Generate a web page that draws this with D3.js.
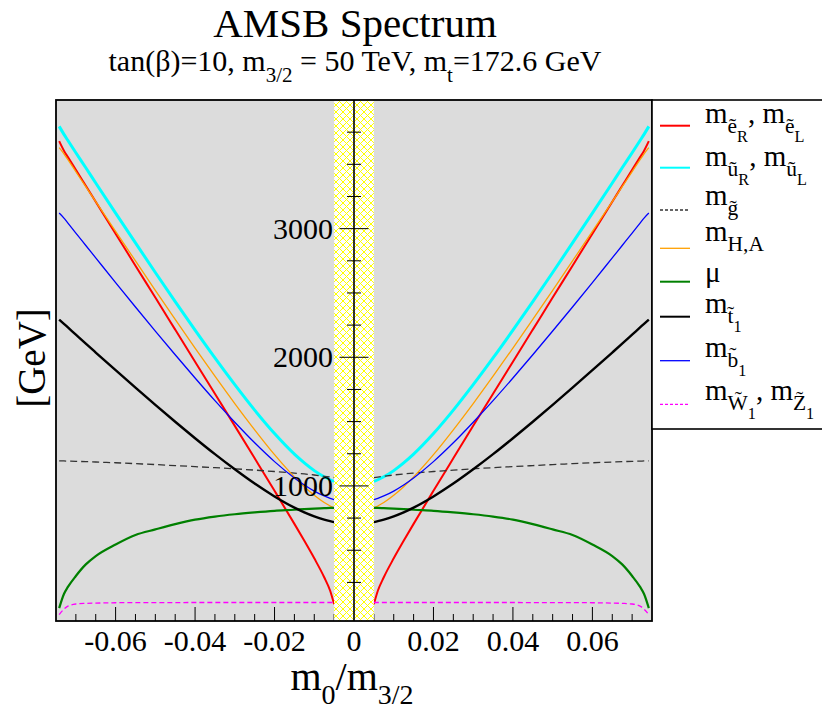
<!DOCTYPE html>
<html><head><meta charset="utf-8">
<script src="https://cdn.jsdelivr.net/npm/d3@7"></script>
<style>
body{margin:0;background:#fff}
svg text{fill:#000;white-space:pre}
</style>
</head><body>
<svg id="c" width="822" height="713"></svg>
<script>
// |m0/m3/2| sample points (curves are drawn on both sides of the excluded band)
const xAbs     = [0.005,0.006,0.0075,0.01,0.0125,0.015,0.02,0.025,0.03,0.035,0.04,0.045,0.05,0.055,0.06,0.065,0.0675,0.07,0.072,0.073,0.0742];
const slepton  = [80,185,290,437,573,705,962,1215,1467,1717,1966,2215,2464,2712,2961,3209,3333,3457,3556,3606,3680];
const squark   = [1035,1048,1071,1119,1179,1247,1407,1589,1787,1995,2211,2433,2659,2889,3121,3355,3473,3590,3685,3733,3795];
const gluino   = [1065,1069,1075,1085,1093,1100,1112,1123,1133,1142,1150,1158,1166,1173,1180,1186,1189,1191,1193,1194,1195];
const higgsHA  = [829,844,871,927,994,1070,1243,1436,1640,1853,2072,2295,2521,2749,2979,3210,3326,3443,3536,3582,3630];
const mu       = [829,829,827,824,820,815,806,794,780,762,738,703,662,619,545,455,390,300,215,160,50];
const stop1    = [719,726,738,763,794,831,918,1018,1129,1247,1371,1499,1630,1764,1900,2037,2106,2176,2232,2260,2293];
const sbottom1 = [894,904,922,960,1007,1062,1189,1335,1495,1663,1839,2020,2204,2391,2581,2773,2869,2965,3043,3082,3121];
const gaugino  = [94,94,94,94,94,94,94,94,94,94,94,93,93,93,92,89,87,82,66,42,0];
const bandHalf = 0.005;
const xTickLabels = ["-0.06","-0.04","-0.02","0","0.02","0.04","0.06"];
const xTickValues = [-0.06,-0.04,-0.02,0,0.02,0.04,0.06];
const yTickLabels = [1000,2000,3000];

const FONT = "Liberation Serif";
const svg = d3.select("#c");
svg.append("rect").attr("width",822).attr("height",713).attr("fill","#fff");

const L=56,R=652,T=100,B=621;
const x = d3.scaleLinear().domain([-0.075,0.075]).range([L,R]);
const y = d3.scaleLinear().domain([-50,4000]).range([B,T]);

// pattern
const defs = svg.append("defs");
const pat = defs.append("pattern").attr("id","hatch").attr("patternUnits","userSpaceOnUse")
  .attr("width",7).attr("height",7);
pat.append("rect").attr("width",7).attr("height",7).attr("fill","#fff");
pat.append("path").attr("d","M-1,-1L8,8M-1,8L8,-1M-4.5,3.5L3.5,11.5M3.5,-4.5L11.5,3.5M3.5,11.5L11.5,3.5M-4.5,3.5L3.5,-4.5")
  .attr("stroke","#ffff00").attr("stroke-width",1).attr("fill","none");
defs.append("clipPath").attr("id","clip").append("rect").attr("x",L).attr("y",T).attr("width",R-L).attr("height",B-T);

// frame fill
svg.append("rect").attr("x",L).attr("y",T).attr("width",R-L).attr("height",B-T).attr("fill","#dcdcdc");

const series = [
  {v:slepton,  color:"#ff0000", w:2,   dash:null},
  {v:squark,   color:"#00ffff", w:3,   dash:null},
  {v:gluino,   color:"#333333", w:1.3, dash:"7,4"},
  {v:higgsHA,  color:"#ffa000", w:1.3, dash:null},
  {v:mu,       color:"#008000", w:2.2, dash:null},
  {v:stop1,    color:"#000000", w:2.4, dash:null},
  {v:sbottom1, color:"#0000ff", w:1.3, dash:null},
  {v:gaugino,  color:"#ff00ff", w:1.3, dash:"5,3"}
];
const line = d3.line().x(d=>x(d[0])).y(d=>y(d[1])).curve(d3.curveMonotoneX);
const gc = svg.append("g").attr("clip-path","url(#clip)");
series.forEach(s=>{
  const right = xAbs.map((a,i)=>[a,s.v[i]]);
  const left = xAbs.map((a,i)=>[-a,s.v[i]]).reverse();
  [left,right].forEach(pts=>{
    gc.append("path").attr("d",line(pts)).attr("fill","none")
      .attr("stroke",s.color).attr("stroke-width",s.w)
      .attr("stroke-dasharray",s.dash);
  });
});

// x ticks (bottom)
const xt = svg.append("g");
d3.range(-0.075,0.0751,0.005).forEach(v=>{
  const major = Math.abs(Math.round(v*1000)) % 20 === 0;
  const xx = x(v);
  if (xx<=L+0.5 || xx>=R-0.5) return;
  xt.append("line").attr("x1",xx).attr("x2",xx).attr("y1",B).attr("y2",B-(major?14:7))
    .attr("stroke","#000").attr("stroke-width",1);
});
xTickValues.forEach((v,i)=>{
  svg.append("text").attr("x",x(v)).attr("y",651).attr("text-anchor","middle")
    .attr("font-family",FONT).attr("font-size",30).text(xTickLabels[i]);
});

// excluded band
svg.append("rect").attr("x",x(-bandHalf)).attr("y",T).attr("width",x(bandHalf)-x(-bandHalf)).attr("height",B-T)
  .attr("fill","url(#hatch)");

// y axis at x=0
const x0 = x(0);
svg.append("line").attr("x1",x0).attr("x2",x0).attr("y1",T).attr("y2",B).attr("stroke","#000").attr("stroke-width",1.6);
d3.range(250,4000,250).forEach(v=>{
  const major = v%1000===0;
  const h = major?14.5:7;
  svg.append("line").attr("x1",x0-h).attr("x2",x0+h).attr("y1",y(v)).attr("y2",y(v))
    .attr("stroke","#000").attr("stroke-width",1);
});
yTickLabels.forEach(v=>{
  svg.append("text").attr("x",333).attr("y",y(v)+10).attr("text-anchor","end")
    .attr("font-family",FONT).attr("font-size",30).text(v);
});

// frame border
svg.append("rect").attr("x",L).attr("y",T).attr("width",R-L).attr("height",B-T)
  .attr("fill","none").attr("stroke","#000").attr("stroke-width",1.8);

// rich text helper
function rich(g, xx, yy, size, parts, anchor, s1, s2){
  const sizes=[size, size*(s1||0.7), size*(s2||0.52)];
  const offs=[0, size*0.36, size*0.66];
  const t=g.append("text").attr("x",xx).attr("y",yy).attr("font-size",size)
    .attr("font-family",FONT).attr("text-anchor",anchor||"start");
  let prev=0;
  parts.forEach(([s,l])=>{
    t.append("tspan").attr("dy",offs[l]-offs[prev]).attr("font-size",sizes[l]).text(s);
    prev=l;
  });
  return t;
}

// titles
svg.append("text").attr("x",355).attr("y",37).attr("text-anchor","middle").attr("font-family",FONT)
  .attr("font-size",41).text("AMSB Spectrum");
rich(svg,355,71,30,[["tan(β)=10, m",0],["3/2",1],[" = 50 TeV, m",0],["t",1],["=172.6 GeV",0]],"middle");
rich(svg,352,690,40,[["m",0],["0",1],["/m",0],["3/2",1]],"middle");
svg.append("text").attr("transform","translate(45,358) rotate(-90)").attr("text-anchor","middle")
  .attr("font-family",FONT).attr("font-size",39).text("[GeV]");

// legend
const lg = svg.append("g");
lg.append("rect").attr("x",652).attr("y",100).attr("width",200).attr("height",329)
  .attr("fill","#fff").attr("stroke","#000").attr("stroke-width",1.6);
const legendLabels = [
  [["m",0],["ẽ",1],["R",2],[", m",0],["ẽ",1],["L",2]],
  [["m",0],["ũ",1],["R",2],[", m",0],["ũ",1],["L",2]],
  [["m",0],["g\u0303",1]],
  [["m",0],["H,A",1]],
  [["μ",0]],
  [["m",0],["t\u0303",1],["1",2]],
  [["m",0],["b\u0303",1],["1",2]],
  [["m",0],["W\u0303",1],["1",2],[", m",0],["Z\u0303",1],["1",2]]
];
const legendLineY = [125.7,167.7,210,248.3,281.7,316.7,360.7,404.3];
const legendTextY = [123,166,205,241,282,313,357,400];
series.forEach((s,i)=>{
  lg.append("line").attr("x1",660).attr("x2",690).attr("y1",legendLineY[i]).attr("y2",legendLineY[i])
    .attr("stroke",s.color).attr("stroke-width",Math.min(s.w,2)).attr("stroke-dasharray",s.dash?"3,2":null);
  rich(lg,705,legendTextY[i],29,legendLabels[i],"start",0.74,0.56);
});
</script>
</body></html>
